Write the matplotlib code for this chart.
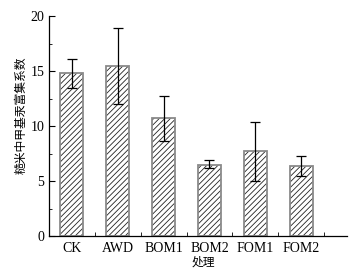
import matplotlib.pyplot as plt
import numpy as np
from matplotlib.ticker import MultipleLocator, FixedLocator

# data
treatments = ['CK', 'AWD', 'BOM1', 'BOM2', 'FOM1', 'FOM2']
coef = [14.85, 15.5, 10.7, 6.5, 7.7, 6.4]
err_low = [13.5, 12.0, 8.65, 6.15, 5.0, 5.45]
err_high = [16.05, 18.95, 12.75, 6.95, 10.35, 7.25]

plt.rcParams['font.family'] = ['Liberation Serif', 'Noto Sans CJK SC']
plt.rcParams['hatch.linewidth'] = 0.6

fig = plt.figure(figsize=(3.62, 2.73), dpi=100)
ax = fig.add_axes([49/362, 1-236/273, 298/362, 220/273])

x = np.arange(len(treatments))
yerr = [np.array(coef) - np.array(err_low), np.array(err_high) - np.array(coef)]

# black hatching, then a grey outline on top
ax.bar(x, coef, width=0.5, color='white', edgecolor='#222222', linewidth=0,
       hatch='//////', zorder=2)
ax.bar(x, coef, width=0.5, color='none', edgecolor='#8a8a8a', linewidth=1.3,
       zorder=2.5)
ax.errorbar(x, coef, yerr=yerr, fmt='none', ecolor='black', elinewidth=0.9,
            capsize=3.5, capthick=0.9, zorder=3)

ax.set_xlim(-0.5, 6.0)
ax.set_ylim(0, 20)
ax.set_xticks(x)
ax.set_xticklabels(treatments, fontsize=10)
ax.tick_params(axis='x', which='major', length=0, pad=4)
ax.xaxis.set_minor_locator(FixedLocator(x + 0.5))
ax.tick_params(axis='x', which='minor', direction='in', length=3)

ax.yaxis.set_major_locator(MultipleLocator(5))
ax.yaxis.set_minor_locator(MultipleLocator(2.5))
ax.tick_params(axis='y', which='major', direction='in', length=4, labelsize=10)
ax.tick_params(axis='y', which='minor', direction='in', length=2)

for s in ['top', 'right']:
    ax.spines[s].set_visible(False)
for s in ['left', 'bottom']:
    ax.spines[s].set_linewidth(0.9)

ax.set_xlabel('处理', family=['Noto Sans CJK SC'], fontsize=8.5)
ax.set_ylabel('糙米中甲基汞富集系数', family=['Noto Sans CJK SC'], fontsize=8.5)
ax.xaxis.set_label_coords(0.518, -0.09)
ax.yaxis.set_label_coords(-0.07, 0.55)

fig.savefig('out.png', dpi=100)
